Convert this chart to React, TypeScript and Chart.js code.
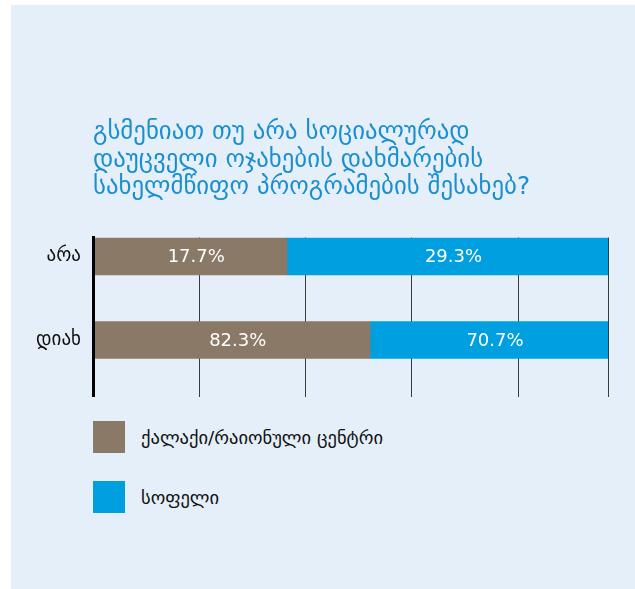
import React, { useEffect, useRef } from "react";
import { Chart, registerables } from "chart.js";

Chart.register(...registerables);

// ---- data ----
const categories: string[] = ["არა", "დიახ"];
const seriesNames: string[] = ["ქალაქი/რაიონული ცენტრი", "სოფელი"];
const cityValues: number[] = [17.7, 82.3];
const villageValues: number[] = [29.3, 70.7];
const titleLines: string[] = [
  "გსმენიათ თუ არა სოციალურად",
  "დაუცველი ოჯახების დახმარების",
  "სახელმწიფო პროგრამების შესახებ?",
];

// ---- style ----
const seriesColors = ["#8a7967", "#009fdf"];
const titleColor = "#1a8fd0";
const panelColor = "#e5eff9";
const FONT = "'DejaVu Sans', sans-serif";
const gridStep = 20.64;

const valueLabels = {
  id: "valueLabels",
  afterDatasetsDraw(chart: any) {
    const ctx = chart.ctx;
    ctx.save();
    ctx.font = `18px ${FONT}`;
    ctx.fillStyle = "#ffffff";
    ctx.textAlign = "center";
    ctx.textBaseline = "middle";
    chart.data.datasets.forEach((ds: any, di: number) => {
      const meta = chart.getDatasetMeta(di);
      meta.data.forEach((bar: any, i: number) => {
        const p = bar.getProps(["x", "y", "base"], true);
        const raw = ds.rawValues[i];
        ctx.fillText(raw.toFixed(1) + "%", (p.x + p.base) / 2 + 6, p.y + 1);
      });
    });
    ctx.restore();
  },
};

export default function App() {
  const canvasRef = useRef<HTMLCanvasElement | null>(null);

  useEffect(() => {
    if (!canvasRef.current) return;
    const totals = categories.map((_, i) => cityValues[i] + villageValues[i]);
    const seriesValues = [cityValues, villageValues];
    const chart = new Chart(canvasRef.current, {
      type: "bar",
      data: {
        datasets: seriesValues.map((vals, si) => ({
          label: seriesNames[si],
          data: vals.map((v, i) => ({ x: (v / totals[i]) * 100, y: i })),
          rawValues: vals,
          backgroundColor: seriesColors[si],
          borderWidth: 0,
          barThickness: 37,
        })) as any,
      },
      options: {
        indexAxis: "y",
        animation: false,
        responsive: false,
        layout: { padding: { top: 0, bottom: 20, left: 0, right: 27 } },
        plugins: {
          legend: { display: false },
          tooltip: { enabled: false },
          title: {
            display: true,
            text: titleLines,
            align: "start",
            fullSize: false,
            color: titleColor,
            font: { family: FONT, size: 24.8, weight: "normal", lineHeight: 1.109 },
            padding: { top: 114, bottom: 36 },
          },
        },
        scales: {
          x: {
            type: "linear",
            stacked: true,
            min: 0,
            max: 100,
            offset: false,
            afterBuildTicks: (scale: any) => {
              const t: any[] = [];
              for (let v = 0; v < 100 - 1; v += gridStep) t.push({ value: v });
              t.push({ value: 100 });
              scale.ticks = t;
            },
            ticks: { display: false },
            grid: { color: "#3a3a3a", lineWidth: 1, drawTicks: false, offset: false },
            border: { display: false },
          },
          y: {
            type: "linear",
            stacked: true,
            reverse: true,
            offset: false,
            min: -0.225,
            max: 1.677,
            bounds: "data",
            afterBuildTicks: (scale: any) => {
              scale.ticks = categories.map((_, i) => ({ value: i }));
            },
            afterFit: (scale: any) => {
              scale.width = 82;
            },
            ticks: {
              color: "#111111",
              padding: 12,
              font: { family: FONT, size: 19 },
              callback: (v: any) => categories[v] ?? "",
            },
            grid: { display: false, drawTicks: false, offset: false },
            border: { display: true, color: "#000000", width: 3, z: 1 },
          },
        },
      } as any,
      plugins: [valueLabels],
    });
    return () => chart.destroy();
  }, []);

  return (
    <div
      style={{
        position: "absolute",
        left: 11,
        top: 5,
        width: 624,
        height: 584,
        background: panelColor,
      }}
    >
      <canvas
        ref={canvasRef}
        width={624}
        height={415}
        style={{ position: "absolute", left: 0, top: 0, width: 624, height: 415 }}
      />
      <div style={{ position: "absolute", left: 82, top: 416 }}>
        {seriesNames.map((name, i) => (
          <div
            key={name}
            style={{ display: "flex", alignItems: "center", height: 32, marginBottom: 28 }}
          >
            <span style={{ display: "inline-block", width: 32, height: 32, background: seriesColors[i] }} />
            <span style={{ marginLeft: 16, font: `18.5px ${FONT}`, color: "#111111" }}>{name}</span>
          </div>
        ))}
      </div>
    </div>
  );
}
